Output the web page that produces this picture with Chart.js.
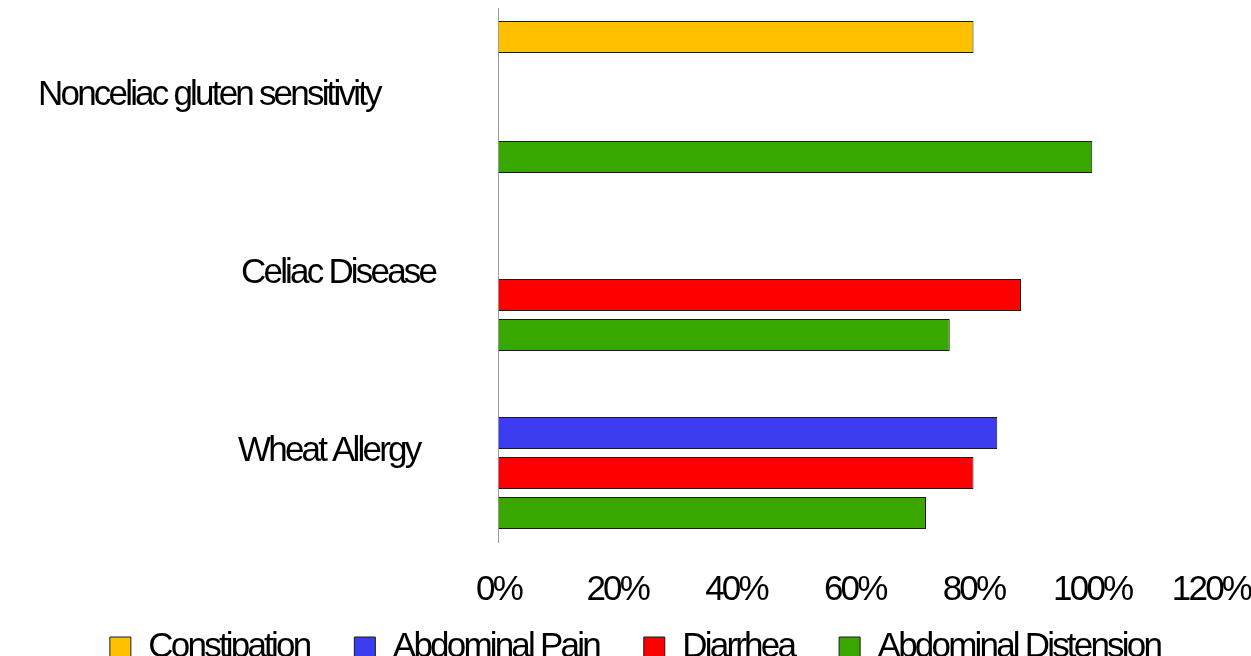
<!DOCTYPE html>
<html>
<head>
<meta charset="utf-8">
<script src="https://cdn.jsdelivr.net/npm/chart.js@4/dist/chart.umd.min.js"></script>
<style>
  html, body { margin: 0; padding: 0; background: #fff; overflow: hidden; }
  #wrap { position: relative; width: 1251px; height: 728px; }
</style>
</head>
<body>
<div id="wrap"><canvas id="c"></canvas></div>
<script>
// Categories (top to bottom)
const categories = ['Nonceliac gluten sensitivity', 'Celiac Disease', 'Wheat Allergy'];

// Share of patients reporting each symptom (%)
const constipation = [80, null, null];
const abdominalPain = [null, null, 84];
const diarrhea = [null, 88, 80];
const abdominalDistension = [100, 76, 72];

const xTicks = [0, 20, 40, 60, 80, 100, 120];

const FONT = { family: "'Liberation Sans', Arial, sans-serif", size: 35 };
const SPACING = '-2.8px';

// Tight letter spacing for every piece of canvas text
const tightText = {
  id: 'tightText',
  beforeInit(chart) { chart.ctx.letterSpacing = SPACING; },
  beforeUpdate(chart) { chart.ctx.letterSpacing = SPACING; },
  beforeLayout(chart) { chart.ctx.letterSpacing = SPACING; },
  beforeDraw(chart) { chart.ctx.letterSpacing = SPACING; }
};

// Pull the legend row up closer to the axis labels
const legendLift = {
  id: 'legendLift',
  afterLayout(chart) {
    if (chart.legend) {
      chart.legend.top -= 53;
      chart.legend.bottom -= 53;
    }
  }
};

// Category names drawn beside the bar groups
const labelStarts = [38, 241, 238];
const categoryNames = {
  id: 'categoryNames',
  afterDraw(chart) {
    const ctx = chart.ctx;
    const y = chart.scales.y;
    ctx.save();
    ctx.letterSpacing = SPACING;
    ctx.font = `${FONT.size}px ${FONT.family}`;
    ctx.fillStyle = '#000';
    ctx.textAlign = 'left';
    ctx.textBaseline = 'middle';
    chart.data.labels.forEach((name, i) => {
      ctx.fillText(name, labelStarts[i], y.getPixelForValue(i) - 1.5);
    });
    ctx.restore();
  }
};

const border = '#1a1a1a';
new Chart(document.getElementById('c'), {
  type: 'bar',
  data: {
    labels: categories,
    datasets: [
      { label: 'Constipation', data: constipation, backgroundColor: '#FFC000', borderColor: border, borderWidth: 1 },
      { label: 'Abdominal Pain', data: abdominalPain, backgroundColor: '#3C3CF0', borderColor: border, borderWidth: 1 },
      { label: 'Diarrhea', data: diarrhea, backgroundColor: '#FF0000', borderColor: border, borderWidth: 1 },
      { label: 'Abdominal Distension', data: abdominalDistension, backgroundColor: '#38A800', borderColor: border, borderWidth: 1 }
    ]
  },
  options: {
    indexAxis: 'y',
    responsive: true,
    maintainAspectRatio: false,
    animation: false,
    devicePixelRatio: 1,
    categoryPercentage: 0.9,
    barPercentage: 0.8,
    layout: { padding: { top: 8, left: 19, right: 0, bottom: 0 } },
    scales: {
      x: {
        min: xTicks[0],
        max: xTicks[xTicks.length - 1],
        afterBuildTicks(scale) { scale.ticks = xTicks.map(v => ({ value: v })); },
        grid: { display: false, drawTicks: false },
        border: { display: false },
        ticks: {
          padding: 27,
          color: '#000',
          font: FONT,
          callback: v => v + '%'
        },
        afterFit(scale) {
          scale.paddingLeft = 0;
          scale.paddingRight = 40;
        }
      },
      y: {
        grid: { display: false, drawTicks: false },
        border: { display: true, color: '#9a9a9a', width: 1 },
        ticks: { display: false },
        afterFit(scale) { scale.width = 479.5; }
      }
    },
    plugins: {
      legend: {
        position: 'bottom',
        labels: {
          boxWidth: 21,
          boxHeight: 21,
          padding: 45,
          color: '#000',
          font: FONT
        }
      },
      tooltip: { enabled: false }
    }
  },
  plugins: [tightText, legendLift, categoryNames]
});
</script>
</body>
</html>
